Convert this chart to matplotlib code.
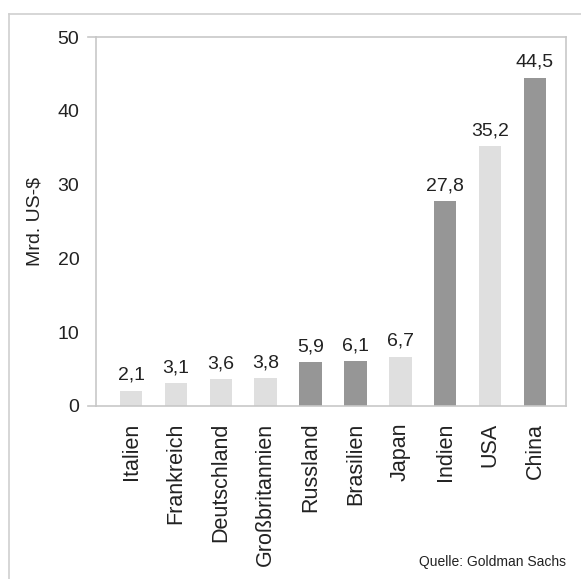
import matplotlib.pyplot as plt
from matplotlib.lines import Line2D

# Daten
laender = ['Italien', 'Frankreich', 'Deutschland', 'Großbritannien', 'Russland',
           'Brasilien', 'Japan', 'Indien', 'USA', 'China']
werte = [2.1, 3.1, 3.6, 3.8, 5.9, 6.1, 6.7, 27.8, 35.2, 44.5]
beschriftung = ['2,1', '3,1', '3,6', '3,8', '5,9', '6,1', '6,7', '27,8', '35,2', '44,5']
dunkel = [False, False, False, False, True, True, False, True, False, True]

hell_farbe = '#dfdfdf'
dunkel_farbe = '#969696'
rahmen = '#c8c8c8'
schrift = '#222222'

plt.rcParams['font.family'] = ['Liberation Sans', 'DejaVu Sans']

fig = plt.figure(figsize=(5.81, 5.79), dpi=100)
ax = fig.add_axes([96 / 581, 1 - 406 / 579, 470 / 581, 369 / 579])

farben = [dunkel_farbe if d else hell_farbe for d in dunkel]
x = range(len(laender))
ax.bar(x, werte, width=0.5, color=farben)

for xi, w, t in zip(x, werte, beschriftung):
    ax.text(xi, w + 0.9, t, ha='center', va='bottom', fontsize=14, color=schrift)

ax.set_xlim(-0.78, 9.69)
ax.set_ylim(0, 50)
ax.set_yticks([0, 10, 20, 30, 40, 50])
ax.set_xticks(list(x))
ax.set_xticklabels(laender, rotation=90)
ax.tick_params(axis='y', length=0, pad=12, labelsize=14, labelcolor=schrift)
ax.tick_params(axis='x', length=0, pad=12, labelsize=15.5, labelcolor=schrift)
ax.set_ylabel('Mrd. US-$', fontsize=14, color=schrift, labelpad=10)

for s in ax.spines.values():
    s.set_color(rahmen)
    s.set_linewidth(1.2)

# kleine Striche bei 0 und 50
for yv in [0, 50]:
    ax.axhline(yv, xmin=-0.018, xmax=0, color=rahmen, lw=1.2, clip_on=False)

# äußerer Rahmen
fig.add_artist(Line2D([9 / 581, 1], [1 - 14 / 579, 1 - 14 / 579], color='#d0d0d0', lw=1.2))
fig.add_artist(Line2D([9 / 581, 9 / 581], [0, 1 - 14 / 579], color='#d0d0d0', lw=1.2))

fig.text(566 / 581, 1 - 562 / 579, 'Quelle: Goldman Sachs', ha='right', va='center',
         fontsize=10, color=schrift)

fig.savefig('out.png', dpi=100)
